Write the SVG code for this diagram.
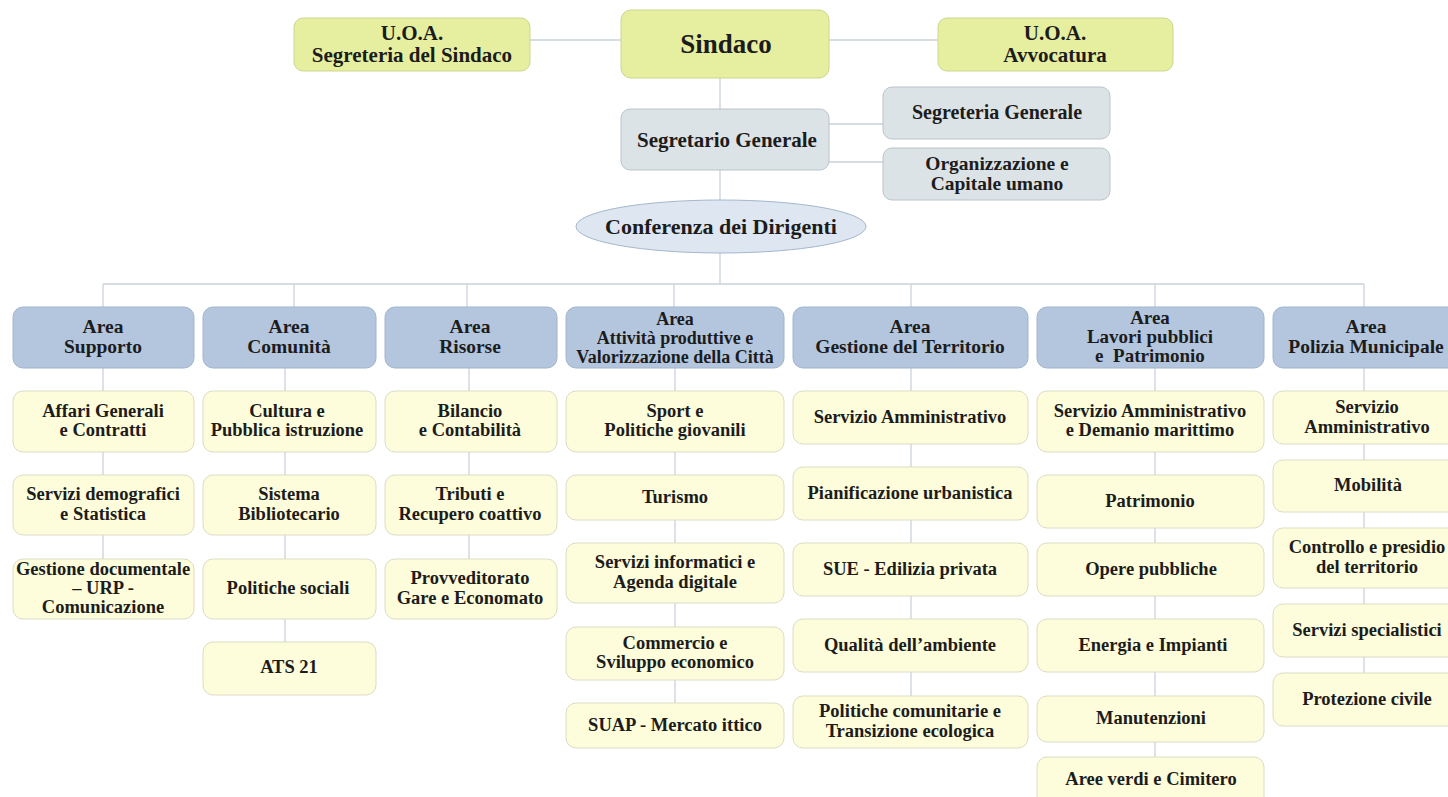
<svg xmlns="http://www.w3.org/2000/svg" width="1448" height="797" viewBox="0 0 1448 797">
<style>
.t{font-family:"Liberation Serif","Times New Roman",serif;font-weight:bold;text-anchor:middle;fill:#1c1c1c}
.c{font-size:18.5px}
.a{font-size:19.5px}
.ln{stroke:#c9d3da;stroke-width:1.3;fill:none}
.top{fill:#e6efa0;stroke:#cdd58f;stroke-width:1}
.sg{fill:#dce3e6;stroke:#b9c4cb;stroke-width:1}
.ar{fill:#b3c6de;stroke:#a2b5cd;stroke-width:1}
.ch{fill:#fdfcdb;stroke:#dcdcc4;stroke-width:1}
.el{fill:#dde6f1;stroke:#a5b7cd;stroke-width:1}
</style>
<rect width="1448" height="797" fill="#ffffff"/>
<g id="connectors">
<line class="ln" x1="530" y1="40" x2="621" y2="40"/>
<line class="ln" x1="829" y1="40" x2="938" y2="40"/>
<line class="ln" x1="720" y1="78" x2="720" y2="109"/>
<line class="ln" x1="829" y1="124" x2="883" y2="124"/>
<line class="ln" x1="829" y1="162" x2="883" y2="162"/>
<line class="ln" x1="720" y1="170" x2="720" y2="200"/>
<line class="ln" x1="720" y1="253" x2="720" y2="284"/>
<line class="ln" x1="103" y1="284" x2="1364" y2="284"/>
<line class="ln" x1="103" y1="284" x2="103" y2="307"/>
<line class="ln" x1="294" y1="284" x2="294" y2="307"/>
<line class="ln" x1="467" y1="284" x2="467" y2="307"/>
<line class="ln" x1="674" y1="284" x2="674" y2="307"/>
<line class="ln" x1="911" y1="284" x2="911" y2="307"/>
<line class="ln" x1="1155" y1="284" x2="1155" y2="307"/>
<line class="ln" x1="1364" y1="284" x2="1364" y2="307"/>
<line class="ln" x1="103" y1="368" x2="103" y2="559"/>
<line class="ln" x1="285" y1="368" x2="285" y2="642"/>
<line class="ln" x1="469" y1="368" x2="469" y2="559"/>
<line class="ln" x1="675" y1="368" x2="675" y2="703"/>
<line class="ln" x1="911" y1="368" x2="911" y2="696"/>
<line class="ln" x1="1155" y1="368" x2="1155" y2="757"/>
<line class="ln" x1="1364" y1="368" x2="1364" y2="673"/>
</g>
<g id="uoa-segreteria"><rect class="top" x="294" y="18" width="236" height="53" rx="9"/><text class="t" font-size="21" x="412" y="40">U.O.A.</text><text class="t" font-size="21" x="412" y="61.5">Segreteria del Sindaco</text></g>
<g id="sindaco"><rect class="top" x="621" y="10" width="208" height="68" rx="10"/><text class="t" font-size="27" x="726" y="53">Sindaco</text></g>
<g id="uoa-avvocatura"><rect class="top" x="938" y="18" width="235" height="53" rx="9"/><text class="t" font-size="21" x="1055" y="40">U.O.A.</text><text class="t" font-size="21" x="1055" y="61.5">Avvocatura</text></g>
<g id="segretario"><rect class="sg" x="621" y="109" width="208" height="61" rx="9"/><text class="t" font-size="21" x="727" y="146.5">Segretario Generale</text></g>
<g id="segreteria-generale"><rect class="sg" x="883" y="87" width="227" height="52" rx="9"/><text class="t" font-size="20" x="997" y="119">Segreteria Generale</text></g>
<g id="organizzazione"><rect class="sg" x="883" y="148" width="227" height="52" rx="9"/><text class="t" font-size="19.5" x="997" y="169.5">Organizzazione e</text><text class="t" font-size="19.5" x="997" y="190">Capitale umano</text></g>
<g id="conferenza"><ellipse class="el" cx="721" cy="226.5" rx="145" ry="26.5"/><text class="t" font-size="22" x="721" y="233.5">Conferenza dei Dirigenti</text></g>

<g id="area-supporto"><rect class="ar" x="13" y="307" width="181" height="61" rx="10"/><text class="t a" x="103" y="333">Area</text><text class="t a" x="103" y="353">Supporto</text></g>
<g id="area-comunita"><rect class="ar" x="203" y="307" width="173" height="61" rx="10"/><text class="t a" x="289" y="333">Area</text><text class="t a" x="289" y="353">Comunità</text></g>
<g id="area-risorse"><rect class="ar" x="385" y="307" width="172" height="61" rx="10"/><text class="t a" x="470" y="333">Area</text><text class="t a" x="470" y="353">Risorse</text></g>
<g id="area-attivita"><rect class="ar" x="566" y="307" width="218" height="61" rx="10"/><text class="t" font-size="18" x="675" y="324.5">Area</text><text class="t" font-size="18" x="675" y="343.5">Attività produttive e</text><text class="t" font-size="18" x="675" y="362.5">Valorizzazione della Città</text></g>
<g id="area-territorio"><rect class="ar" x="793" y="307" width="235" height="61" rx="10"/><text class="t a" x="910" y="333">Area</text><text class="t a" x="910" y="353">Gestione del Territorio</text></g>
<g id="area-lavori"><rect class="ar" x="1037" y="307" width="227" height="61" rx="10"/><text class="t" font-size="19" x="1150" y="324">Area</text><text class="t" font-size="19" x="1150" y="343">Lavori pubblici</text><text class="t" font-size="19" x="1150" y="362" xml:space="preserve">e  Patrimonio</text></g>
<g id="area-polizia"><rect class="ar" x="1273" y="307" width="190" height="61" rx="10"/><text class="t a" x="1366" y="333">Area</text><text class="t a" x="1366" y="353">Polizia Municipale</text></g>

<g id="affari-generali"><rect class="ch" x="13" y="391" width="181" height="61" rx="10"/><text class="t c" x="103" y="416.5">Affari Generali</text><text class="t c" x="103" y="436">e Contratti</text></g>
<g id="servizi-demografici"><rect class="ch" x="13" y="475" width="181" height="60" rx="10"/><text class="t c" x="103" y="500">Servizi demografici</text><text class="t c" x="103" y="519.5">e Statistica</text></g>
<g id="gestione-documentale"><rect class="ch" x="13" y="559" width="181" height="60" rx="10"/><text class="t c" x="103" y="575">Gestione documentale</text><text class="t c" x="103" y="594">– URP -</text><text class="t c" x="103" y="613">Comunicazione</text></g>

<g id="cultura"><rect class="ch" x="203" y="391" width="173" height="61" rx="10"/><text class="t c" x="287" y="416.5">Cultura e</text><text class="t c" x="287" y="436">Pubblica istruzione</text></g>
<g id="sistema-bibliotecario"><rect class="ch" x="203" y="475" width="173" height="60" rx="10"/><text class="t c" x="289" y="500">Sistema</text><text class="t c" x="289" y="519.5">Bibliotecario</text></g>
<g id="politiche-sociali"><rect class="ch" x="203" y="559" width="173" height="60" rx="10"/><text class="t c" x="288" y="593.5">Politiche sociali</text></g>
<g id="ats21"><rect class="ch" x="203" y="642" width="173" height="53" rx="10"/><text class="t c" x="289" y="673">ATS 21</text></g>

<g id="bilancio"><rect class="ch" x="385" y="391" width="172" height="61" rx="10"/><text class="t c" x="470" y="416.5">Bilancio</text><text class="t c" x="470" y="436">e Contabilità</text></g>
<g id="tributi"><rect class="ch" x="385" y="475" width="172" height="60" rx="10"/><text class="t c" x="470" y="500">Tributi e</text><text class="t c" x="470" y="519.5">Recupero coattivo</text></g>
<g id="provveditorato"><rect class="ch" x="385" y="559" width="172" height="60" rx="10"/><text class="t c" x="470" y="584">Provveditorato</text><text class="t c" x="470" y="603.5">Gare e Economato</text></g>

<g id="sport"><rect class="ch" x="566" y="391" width="218" height="61" rx="10"/><text class="t c" x="675" y="416.5">Sport e</text><text class="t c" x="675" y="436">Politiche giovanili</text></g>
<g id="turismo"><rect class="ch" x="566" y="475" width="218" height="45" rx="10"/><text class="t c" x="675" y="502.5">Turismo</text></g>
<g id="servizi-informatici"><rect class="ch" x="566" y="543" width="218" height="60" rx="10"/><text class="t c" x="675" y="568">Servizi informatici e</text><text class="t c" x="675" y="587.5">Agenda digitale</text></g>
<g id="commercio"><rect class="ch" x="566" y="627" width="218" height="53" rx="10"/><text class="t c" x="675" y="648.5">Commercio e</text><text class="t c" x="675" y="668">Sviluppo economico</text></g>
<g id="suap"><rect class="ch" x="566" y="703" width="218" height="45" rx="10"/><text class="t c" x="675" y="730.5">SUAP - Mercato ittico</text></g>

<g id="servizio-amm-territorio"><rect class="ch" x="793" y="391" width="235" height="53" rx="10"/><text class="t c" x="910" y="422.5">Servizio Amministrativo</text></g>
<g id="pianificazione"><rect class="ch" x="793" y="467" width="235" height="53" rx="10"/><text class="t c" x="910" y="498.5">Pianificazione urbanistica</text></g>
<g id="sue"><rect class="ch" x="793" y="543" width="235" height="53" rx="10"/><text class="t c" x="910" y="574.5">SUE - Edilizia privata</text></g>
<g id="qualita-ambiente"><rect class="ch" x="793" y="619" width="235" height="53" rx="10"/><text class="t c" x="910" y="650.5">Qualità dell’ambiente</text></g>
<g id="politiche-comunitarie"><rect class="ch" x="793" y="696" width="235" height="52" rx="10"/><text class="t c" x="910" y="717">Politiche comunitarie e</text><text class="t c" x="910" y="736.5">Transizione ecologica</text></g>

<g id="servizio-amm-demanio"><rect class="ch" x="1037" y="391" width="227" height="61" rx="10"/><text class="t c" x="1150" y="416.5">Servizio Amministrativo</text><text class="t c" x="1150" y="436">e Demanio marittimo</text></g>
<g id="patrimonio"><rect class="ch" x="1037" y="475" width="227" height="53" rx="10"/><text class="t c" x="1150" y="506.5">Patrimonio</text></g>
<g id="opere-pubbliche"><rect class="ch" x="1037" y="543" width="227" height="53" rx="10"/><text class="t c" x="1151" y="574.5">Opere pubbliche</text></g>
<g id="energia"><rect class="ch" x="1037" y="619" width="227" height="53" rx="10"/><text class="t c" x="1153" y="650.5">Energia e Impianti</text></g>
<g id="manutenzioni"><rect class="ch" x="1037" y="696" width="227" height="46" rx="10"/><text class="t c" x="1151" y="723.5">Manutenzioni</text></g>
<g id="aree-verdi"><rect class="ch" x="1037" y="757" width="227" height="50" rx="10"/><text class="t c" x="1151" y="784.5">Aree verdi e Cimitero</text></g>

<g id="servizio-amm-polizia"><rect class="ch" x="1273" y="391" width="190" height="53" rx="10"/><text class="t c" x="1367" y="413">Servizio</text><text class="t c" x="1367" y="432.5">Amministrativo</text></g>
<g id="mobilita"><rect class="ch" x="1273" y="460" width="190" height="52" rx="10"/><text class="t c" x="1368" y="491">Mobilità</text></g>
<g id="controllo"><rect class="ch" x="1273" y="528" width="190" height="60" rx="10"/><text class="t c" x="1367" y="553">Controllo e presidio</text><text class="t c" x="1367" y="572.5">del territorio</text></g>
<g id="servizi-specialistici"><rect class="ch" x="1273" y="604" width="190" height="53" rx="10"/><text class="t c" x="1367" y="635.5">Servizi specialistici</text></g>
<g id="protezione-civile"><rect class="ch" x="1273" y="673" width="190" height="53" rx="10"/><text class="t c" x="1367" y="704.5">Protezione civile</text></g>
</svg>
